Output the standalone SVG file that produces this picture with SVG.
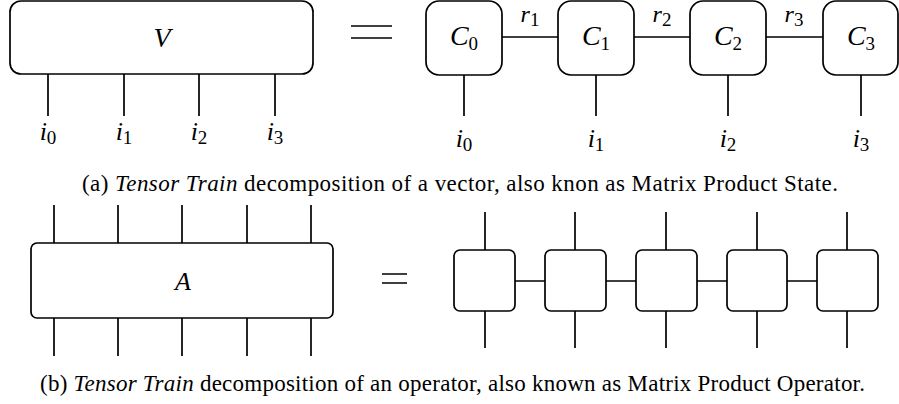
<svg xmlns="http://www.w3.org/2000/svg" width="899" height="404" viewBox="0 0 899 404">
<style>
.box{fill:#fff;stroke:#000;stroke-width:1.7}
.ln{stroke:#000;stroke-width:1.7;fill:none}
.m{font-family:"Liberation Serif","DejaVu Serif",serif;font-style:italic;font-size:28px;fill:#000}
.i{font-size:26px}
.r{font-size:24px}
.s{font-style:normal;font-size:19px}
.cap{font-family:"Liberation Serif","Times New Roman",serif;font-size:23px;fill:#000}
.it{font-style:italic}
</style>
<rect width="899" height="404" fill="#fff"/>
<g id="connectors">
<path class="ln" d="M48,74V116M124,74V116M199,74V116M275,74V116"/>
<path class="ln" d="M351,26H392M351,38H392"/>
<path class="ln" d="M464,75V116M596,75V116M728,75V116M861,75V116"/>
<path class="ln" d="M502,37H558M634,37H690M766,37H823"/>
<path class="ln" d="M54,205V243M118,205V243M182,205V243M247,205V243M311,205V243"/>
<path class="ln" d="M54,318V356M118,318V356M182,318V356M247,318V356M311,318V356"/>
<path class="ln" d="M382,274H407M382,283H407"/>
<path class="ln" d="M485,212V250M575,212V250M666,212V250M757,212V250M847,212V250"/>
<path class="ln" d="M485,311V348M575,311V348M666,311V348M757,311V348M847,311V348"/>
<path class="ln" d="M515,281H545M606,281H636M697,281H727M787,281H817"/>
</g>
<g id="V"><rect class="box" x="10" y="1" width="303" height="73" rx="11"/><text class="m" x="162" y="47" text-anchor="middle">V</text></g>
<g id="C0"><rect class="box" x="426" y="1" width="76" height="74" rx="13"/><text class="m" x="464" y="45" text-anchor="middle">C<tspan class="s" dy="5">0</tspan></text></g>
<g id="C1"><rect class="box" x="558" y="1" width="76" height="74" rx="13"/><text class="m" x="596" y="45" text-anchor="middle">C<tspan class="s" dy="5">1</tspan></text></g>
<g id="C2"><rect class="box" x="690" y="1" width="76" height="74" rx="13"/><text class="m" x="728" y="45" text-anchor="middle">C<tspan class="s" dy="5">2</tspan></text></g>
<g id="C3"><rect class="box" x="823" y="1" width="75" height="74" rx="13"/><text class="m" x="861" y="45" text-anchor="middle">C<tspan class="s" dy="5">3</tspan></text></g>
<g id="labels-a">
<text class="m i" x="48" y="140" text-anchor="middle">i<tspan class="s" dy="4">0</tspan></text>
<text class="m i" x="124" y="140" text-anchor="middle">i<tspan class="s" dy="4">1</tspan></text>
<text class="m i" x="199" y="140" text-anchor="middle">i<tspan class="s" dy="4">2</tspan></text>
<text class="m i" x="275" y="140" text-anchor="middle">i<tspan class="s" dy="4">3</tspan></text>
<text class="m i" x="464" y="147" text-anchor="middle">i<tspan class="s" dy="4">0</tspan></text>
<text class="m i" x="596" y="147" text-anchor="middle">i<tspan class="s" dy="4">1</tspan></text>
<text class="m i" x="728" y="147" text-anchor="middle">i<tspan class="s" dy="4">2</tspan></text>
<text class="m i" x="861" y="147" text-anchor="middle">i<tspan class="s" dy="4">3</tspan></text>
<text class="m r" x="530" y="22" text-anchor="middle">r<tspan class="s" dy="4">1</tspan></text>
<text class="m r" x="662" y="22" text-anchor="middle">r<tspan class="s" dy="4">2</tspan></text>
<text class="m r" x="794" y="22" text-anchor="middle">r<tspan class="s" dy="4">3</tspan></text>
</g>
<text class="cap" x="82" y="191" textLength="756" lengthAdjust="spacing">(a) <tspan class="it">Tensor Train</tspan> decomposition of a vector, also knon as Matrix Product State.</text>
<g id="A"><rect class="box" x="31" y="243" width="302" height="75" rx="6"/><text class="m" x="183" y="290" text-anchor="middle" style="font-size:26px">A</text></g>
<g id="T0"><rect class="box" x="454" y="250" width="61" height="61" rx="6"/></g>
<g id="T1"><rect class="box" x="545" y="250" width="61" height="61" rx="6"/></g>
<g id="T2"><rect class="box" x="636" y="250" width="61" height="61" rx="6"/></g>
<g id="T3"><rect class="box" x="727" y="250" width="60" height="61" rx="6"/></g>
<g id="T4"><rect class="box" x="817" y="250" width="61" height="61" rx="6"/></g>
<text class="cap" x="40" y="391" textLength="825" lengthAdjust="spacing">(b) <tspan class="it">Tensor Train</tspan> decomposition of an operator, also known as Matrix Product Operator.</text>
</svg>
